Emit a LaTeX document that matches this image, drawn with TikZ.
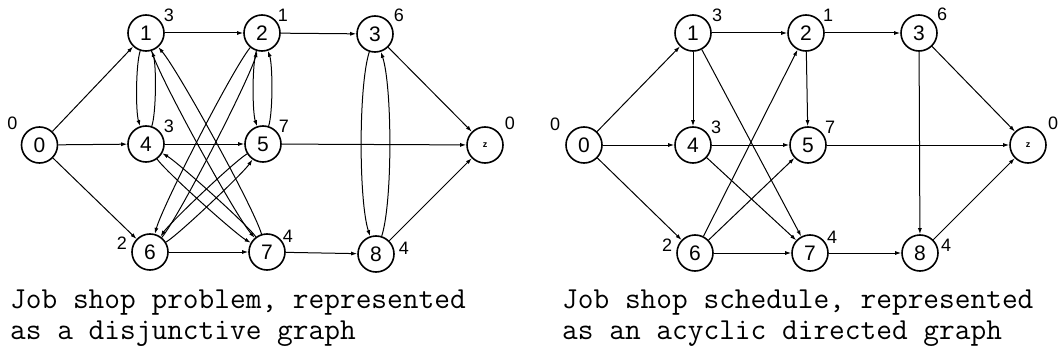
\documentclass[tikz,border=0pt]{standalone}
\usepackage{fontspec}
\setmainfont{Liberation Sans}
\usetikzlibrary{arrows.meta,calc}
\begin{document}
\begin{tikzpicture}[x=1pt,y=-1pt,
  vtx/.style={circle,draw,line width=1.6pt,minimum size=36pt,inner sep=0pt,font=\fontsize{21}{21}\selectfont},
  wt/.style={font=\fontsize{18}{18}\selectfont,inner sep=0pt},
  arc/.style={line width=1pt,-{Latex[length=6pt,width=4pt]}},
  vpair/.style={arc,bend right=18,looseness=0.5},
  dpair/.style={arc,bend right=12,looseness=0.35},
  captext/.style={font=\ttfamily\fontsize{30.5}{31}\selectfont,align=left,anchor=north west,inner sep=0pt}]
\useasboundingbox (0,0) rectangle (1058,353);
% ---------- left graph ----------
\node[vtx] (a0) at (39.5,145) {0};
\node[vtx] (a1) at (146,33) {1};
\node[vtx] (a2) at (262,33) {2};
\node[vtx] (a3) at (375,34) {3};
\node[vtx] (a4) at (146,144) {4};
\node[vtx] (a5) at (263,144) {5};
\node[vtx] (az) at (485,145) {\fontsize{9}{9}\selectfont\bfseries z};
\node[vtx] (a6) at (150,252) {6};
\node[vtx] (a7) at (267,252) {7};
\node[vtx] (a8) at (376,254) {8};
\node[wt] (la0) at ($(a0)+(-27,-22)$) {0};
\node[wt] (la1) at ($(a1)+(23,-18)$) {3};
\node[wt] (la2) at ($(a2)+(21,-18)$) {1};
\node[wt] (la3) at ($(a3)+(24,-19)$) {6};
\node[wt] (la4) at ($(a4)+(23,-18)$) {3};
\node[wt] (la5) at ($(a5)+(21,-18)$) {7};
\node[wt] (laz) at ($(az)+(25,-22)$) {0};
\node[wt] (la6) at ($(a6)+(-28,-9)$) {2};
\node[wt] (la7) at ($(a7)+(21,-16)$) {4};
\node[wt] (la8) at ($(a8)+(28,-6)$) {4};
\draw[arc] (a0) -- (a1);
\draw[arc] (a0) -- (a4);
\draw[arc] (a0) -- (a6);
\draw[arc] (a1) -- (a2);
\draw[arc] (a2) -- (a3);
\draw[arc] (a3) -- (az);
\draw[arc] (a4) -- (a5);
\draw[arc] (a5) -- (az);
\draw[arc] (a6) -- (a7);
\draw[arc] (a7) -- (a8);
\draw[arc] (a8) -- (az);
\draw[vpair] (a1) to (a4);
\draw[vpair] (a4) to (a1);
\draw[vpair] (a2) to (a5);
\draw[vpair] (a5) to (a2);
\draw[vpair] (a3) to (a8);
\draw[vpair] (a8) to (a3);
\draw[dpair] (a1) to (a7);
\draw[dpair] (a7) to (a1);
\draw[dpair] (a4) to (a7);
\draw[dpair] (a7) to (a4);
\draw[dpair] (a2) to (a6);
\draw[dpair] (a6) to (a2);
\draw[dpair] (a5) to (a6);
\draw[dpair] (a6) to (a5);
% ---------- right graph ----------
\node[vtx] (b0) at (584,145) {0};
\node[vtx] (b1) at (693,33) {1};
\node[vtx] (b2) at (806,33) {2};
\node[vtx] (b3) at (919,33) {3};
\node[vtx] (b4) at (693,145) {4};
\node[vtx] (b5) at (808,145) {5};
\node[vtx] (bz) at (1028,145) {\fontsize{9}{9}\selectfont\bfseries z};
\node[vtx] (b6) at (695,253) {6};
\node[vtx] (b7) at (810,253) {7};
\node[vtx] (b8) at (920,253) {8};
\node[wt] (lb0) at ($(b0)+(-29,-21)$) {0};
\node[wt] (lb1) at ($(b1)+(24,-18)$) {3};
\node[wt] (lb2) at ($(b2)+(22,-18)$) {1};
\node[wt] (lb3) at ($(b3)+(23,-19)$) {6};
\node[wt] (lb4) at ($(b4)+(23,-18)$) {3};
\node[wt] (lb5) at ($(b5)+(22,-18)$) {7};
\node[wt] (lbz) at ($(bz)+(25,-22)$) {0};
\node[wt] (lb6) at ($(b6)+(-28,-8)$) {2};
\node[wt] (lb7) at ($(b7)+(22,-16)$) {4};
\node[wt] (lb8) at ($(b8)+(26,-8)$) {4};
\draw[arc] (b0) -- (b1);
\draw[arc] (b0) -- (b4);
\draw[arc] (b0) -- (b6);
\draw[arc] (b1) -- (b2);
\draw[arc] (b1) -- (b4);
\draw[arc] (b1) -- (b7);
\draw[arc] (b2) -- (b3);
\draw[arc] (b2) -- (b5);
\draw[arc] (b3) -- (bz);
\draw[arc] (b3) -- (b8);
\draw[arc] (b4) -- (b5);
\draw[arc] (b4) -- (b7);
\draw[arc] (b5) -- (bz);
\draw[arc] (b6) -- (b2);
\draw[arc] (b6) -- (b5);
\draw[arc] (b6) -- (b7);
\draw[arc] (b7) -- (b8);
\draw[arc] (b8) -- (bz);
% ---------- captions ----------
\node[captext] (capL) at (10,290) {Job shop problem, represented\\as a disjunctive graph};
\node[captext] (capR) at (562,290) {Job shop schedule, represented\\as an acyclic directed graph};
\end{tikzpicture}
\end{document}
